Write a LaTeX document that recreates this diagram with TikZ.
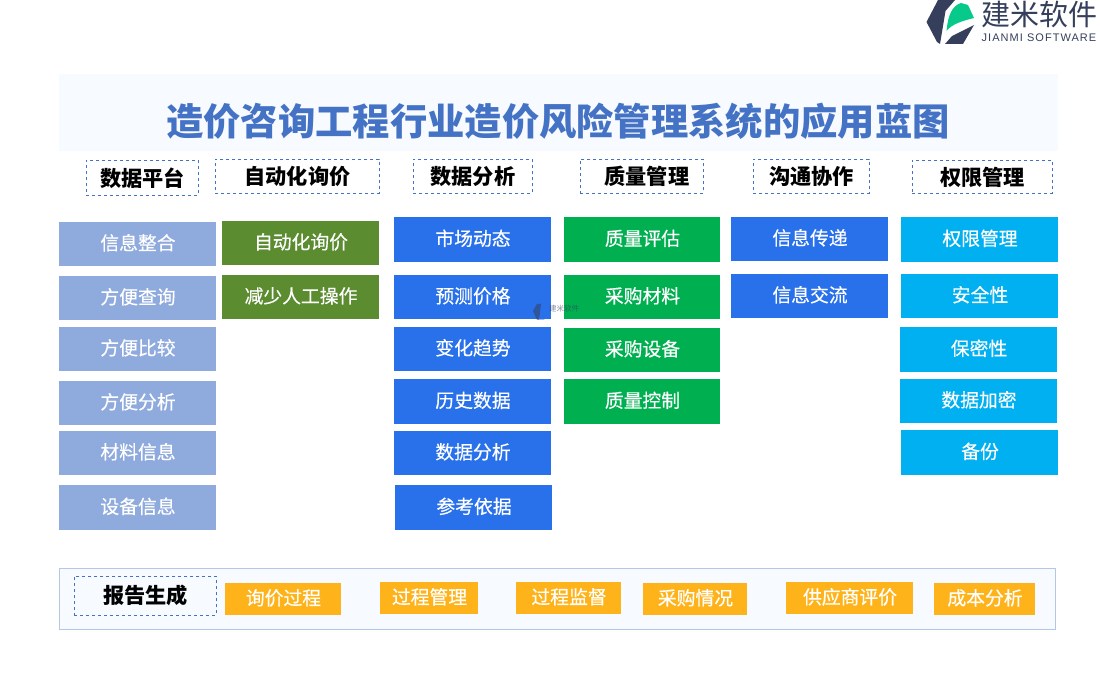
\documentclass[tikz,border=0pt]{standalone}
\usepackage{fontspec}
\setmainfont{Noto Sans CJK SC}
\newfontfamily\latinlogo[LetterSpace=9.5]{Liberation Sans}
\newfontfamily\cellfont[FakeBold=0.35]{Noto Sans CJK SC}
\definecolor{titleblue}{HTML}{4472C4}
\definecolor{bandbg}{HTML}{F7FAFF}
\definecolor{barline}{HTML}{B4C7E7}
\definecolor{paleblue}{HTML}{8FAADC}
\definecolor{leafgreen}{HTML}{5B8C2F}
\definecolor{royalblue}{HTML}{2970EB}
\definecolor{brightgreen}{HTML}{00B050}
\definecolor{skyblue}{HTML}{00B0F0}
\definecolor{amber}{HTML}{FFB31A}
\definecolor{logodark}{HTML}{353F5C}
\definecolor{logogreen}{HTML}{06C98A}
\tikzset{
	cell/.style={anchor=north west, inner sep=0pt, outer sep=0pt, text=white, font=\fontsize{18.8}{18.8}\cellfont, text height=15pt, text depth=3pt, execute at begin node=\hskip 1pt},
	head/.style={anchor=north west, inner sep=0pt, draw=titleblue, dashed, line width=0.8pt, text=black, font=\fontsize{21.2}{21.2}\selectfont\bfseries},
}
\begin{document}
\begin{tikzpicture}[x=1pt, y=-1pt]
	\useasboundingbox (0,0) rectangle (1100,700);
	% title band
	\fill[bandbg] (59,74) rectangle (1058,151);
	\node[font=\fontsize{37.3}{37.3}\selectfont\bfseries, text=titleblue, inner sep=0pt] (title) at (558,121) {造价咨询工程行业造价风险管理系统的应用蓝图};
	% logo
	\fill[logodark] (926.5,22) -- (938,0) -- (955,0) -- (945.5,11) -- (940,44) -- (937,42) -- cycle;
	\fill[logodark] (945,44) -- (963,44) -- (974,25) -- (952,36) -- cycle;
	\fill[logogreen] (946.5,31) .. controls (948,15) and (952,6) .. (961,3) -- (968,5) -- (974,18) .. controls (962,21) and (952,24) .. (946.5,31) -- cycle;
	\node[text=logodark, font=\fontsize{29}{29}\selectfont, inner sep=0pt] (logotext) at (1039.5,14) {建米软件};
	\node[text=logodark, font=\fontsize{11}{11}\latinlogo, inner sep=0pt] (logosub) at (1039,38) {JIANMI SOFTWARE};
	% headers
	\foreach \n/\x/\y/\w/\h/\t in {1/86/160/112/35/数据平台, 2/215/159/164/34/自动化询价, 3/413/159/119/34/数据分析, 4/580/159/123/34/\hspace*{10pt}质量管理, 5/753/159/116/34/沟通协作, 6/912/160/140/33/权限管理} {
		\node[head, minimum width=\w pt, minimum height=\h pt] (head\n) at (\x,\y) {\t};
	}
	% columns
	\foreach \n/\x/\y/\w/\h/\t in {1/59/222/157/44/信息整合, 2/59/276/157/44/方便查询, 3/59/327/157/44/方便比较, 4/59/381/157/44/方便分析, 5/59/431/157/44/材料信息, 6/59/485/157/45/设备信息} {
		\node[cell, fill=paleblue, minimum width=\w pt, minimum height=\h pt] (plat\n) at (\x,\y) {\t};
	}
	\foreach \n/\x/\y/\w/\h/\t in {1/222/221/157/44/自动化询价, 2/222/275/157/44/减少人工操作} {
		\node[cell, fill=leafgreen, minimum width=\w pt, minimum height=\h pt] (auto\n) at (\x,\y) {\t};
	}
	\foreach \n/\x/\y/\w/\h/\t in {1/394/217/157/45/市场动态, 2/394/275/157/44/预测价格, 3/394/327/157/44/变化趋势, 4/394/379/157/45/历史数据, 5/394/431/157/44/数据分析, 6/395/485/157/45/参考依据} {
		\node[cell, fill=royalblue, minimum width=\w pt, minimum height=\h pt] (ana\n) at (\x,\y) {\t};
	}
	\foreach \n/\x/\y/\w/\h/\t in {1/564/217/156/45/质量评估, 2/564/275/156/44/采购材料, 3/564/328/156/44/采购设备, 4/564/379/156/45/质量控制} {
		\node[cell, fill=brightgreen, minimum width=\w pt, minimum height=\h pt] (qual\n) at (\x,\y) {\t};
	}
	\foreach \n/\x/\y/\w/\h/\t in {1/731/217/157/44/信息传递, 2/731/274/157/44/信息交流} {
		\node[cell, fill=royalblue, minimum width=\w pt, minimum height=\h pt] (comm\n) at (\x,\y) {\t};
	}
	\foreach \n/\x/\y/\w/\h/\t in {1/901/217/157/45/权限管理, 2/901/274/157/44/安全性, 3/900/327/157/45/保密性, 4/900/379/157/44/数据加密, 5/901/430/157/45/备份} {
		\node[cell, fill=skyblue, minimum width=\w pt, minimum height=\h pt] (perm\n) at (\x,\y) {\t};
	}
	% watermark
	\fill[logodark, opacity=0.55] (533,311) -- (537,304) -- (541,304) -- (539,320) -- (537,320) -- cycle;
	\fill[royalblue, opacity=0.45] (539,320) -- (542,305) -- (547,306) -- (548,312) -- (544,320) -- cycle;
	\node[text=logodark, opacity=0.6, font=\fontsize{7.5}{7.5}\selectfont, inner sep=0pt] (marktext) at (564,309) {建米软件};
	% report bar
	\draw[draw=barline, fill=bandbg, line width=0.8pt] (59,568.5) rectangle (1055.5,629.5);
	\node[head, minimum width=142pt, minimum height=39pt] (report) at (74,576) {报告生成};
	\foreach \n/\x/\y/\w/\t in {1/225/583/116/询价过程, 2/380/582/98/过程管理, 3/516/582/105/过程监督, 4/643/583/104/采购情况, 5/786/582/127/供应商评价, 6/934/583/101/成本分析} {
		\node[cell, fill=amber, minimum width=\w pt, minimum height=32pt] (rep\n) at (\x,\y) {\t};
	}
\end{tikzpicture}
\end{document}
